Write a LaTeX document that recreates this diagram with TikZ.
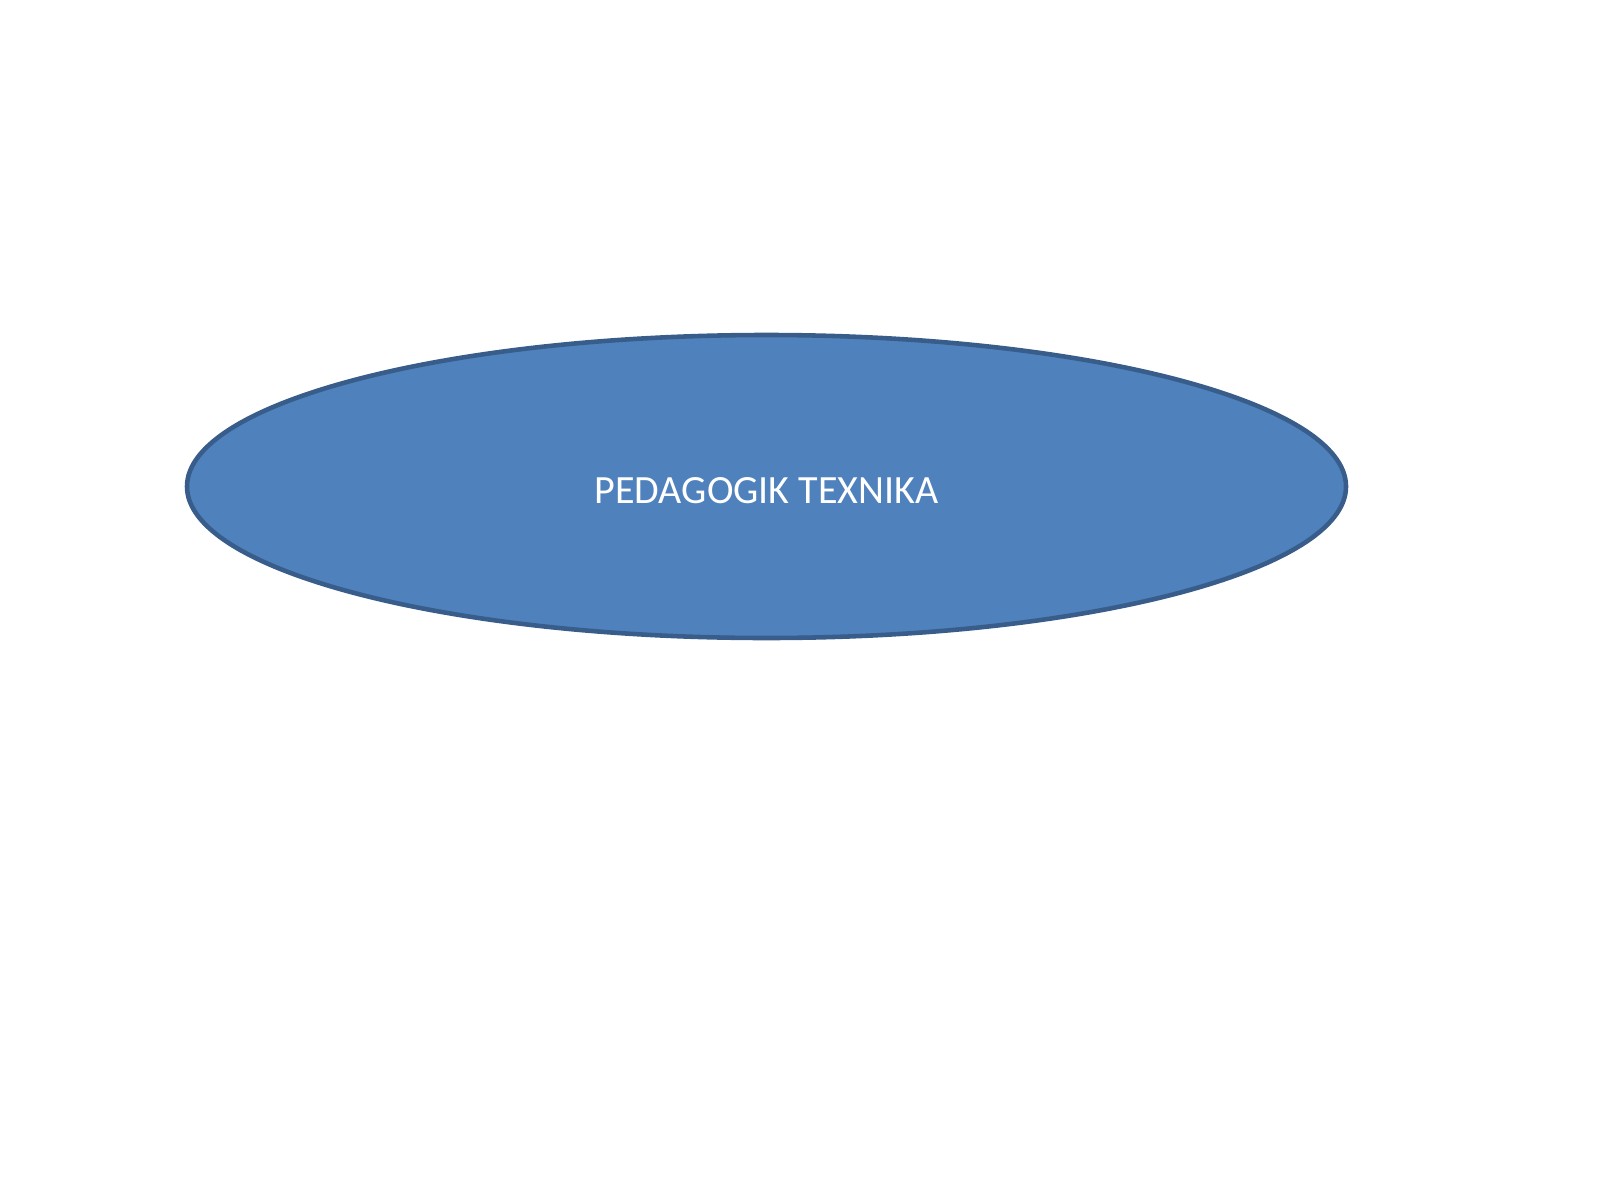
\documentclass[tikz,border=0pt]{standalone}
\usepackage{fontspec}
\setmainfont{Carlito}
\usetikzlibrary{shapes.geometric,positioning}
\definecolor{oval}{HTML}{4F81BD}
\definecolor{ovalrim}{HTML}{385D8A}
\tikzset{
	bigoval/.style={ellipse, draw=ovalrim, fill=oval, line width=1.3pt,
		minimum width=11.59cm, minimum height=3.03cm, inner sep=0pt},
	ovaltext/.style={text=white, font=\fontsize{11.4}{13}\selectfont}
}

\begin{document}
\begin{tikzpicture}
		\useasboundingbox (0,0) rectangle (16,12);
		\node[bigoval] (tech) at (7.665,7.135) {};
		\node[ovaltext, yshift=-0.04cm] (techtext) at (tech.center) {PEDAGOGIK TEXNIKA};
	\end{tikzpicture}
\end{document}
